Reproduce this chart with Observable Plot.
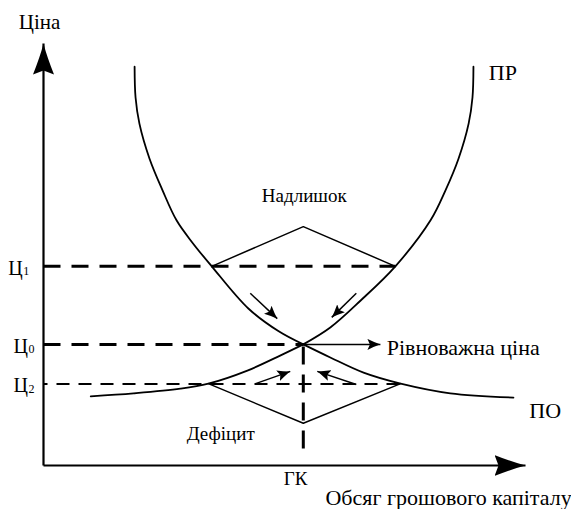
<!DOCTYPE html>
<html>
<head>
<meta charset="utf-8">
<script src="https://cdn.jsdelivr.net/npm/d3@7"></script>
<script src="https://cdn.jsdelivr.net/npm/@observablehq/plot@0.6"></script>
<style>
  html, body { margin: 0; padding: 0; background: #fff; }
  #chart svg { display: block; }
  #chart svg text, #chart svg tspan { font-family: "Liberation Serif", "Times New Roman", "DejaVu Serif", serif !important; }
</style>
</head>
<body>
<div id="chart"></div>
<script>
// ---- Data (quantity q, price p in arbitrary units 0..100) ----
const priceLevels = [
  { name: "Ц", sub: "1", p: 47.2, qEnd: 73.0, labelQ: -7.3, heavy: true },
  { name: "Ц", sub: "0", p: 28.7, qEnd: 53.9, labelQ: -6.2, heavy: true },
  { name: "Ц", sub: "2", p: 19.3, qEnd: 74.6, labelQ: -6.2, heavy: false }
];
const equilibrium = { q: 53.9, p: 28.7 };
const gkBottom = 2.4;

// curve ПР (two branches meeting at equilibrium)
const prLeft = [
  [18.9, 94.5], [19.1, 87.2], [19.9, 81.0], [22.0, 72.7], [24.7, 65.2],
  [27.6, 58.1], [30.9, 52.8], [34.9, 47.2], [42.5, 37.2], [48.8, 31.8], [53.9, 28.7]
];
const prRight = [
  [53.9, 28.7], [59.5, 32.7], [65.8, 39.1], [73.0, 47.2], [80.3, 58.1],
  [83.4, 65.2], [86.1, 72.7], [88.2, 81.0], [89.0, 87.2], [89.2, 94.5]
];
// curve ПО
const poLeft = [
  [9.8, 16.4], [18.7, 17.1], [28.4, 18.2], [34.2, 19.4], [42.3, 22.5],
  [49.2, 26.1], [53.9, 28.7]
];
const poRight = [
  [53.9, 28.7], [59.5, 25.6], [66.4, 22.0], [74.1, 19.4], [84.4, 17.1], [97.5, 16.1]
];
// surplus / deficit wedges
const surplus = [[34.9, 47.2], [53.9, 56.6], [73.0, 47.2]];
const deficit = [[34.2, 19.4], [53.9, 10.0], [74.1, 19.4]];

// adjustment arrows [q1, p1, q2, p2]
const adjustArrows = [
  [42.9, 40.8, 48.5, 34.8],
  [64.9, 40.8, 59.8, 35.1],
  [44.0, 19.4, 51.2, 22.3],
  [64.9, 19.2, 56.8, 22.3],
  [53.9, 28.7, 69.9, 28.7]
];

// text labels
const curveLabels = [
  { text: "ПР", q: 95.3, p: 93.0 },
  { text: "ПО", q: 104.1, p: 13.0 }
];
const axisTitleY = [{ text: "Ціна", q: -0.8, p: 105.0 }];
const regionLabels = [
  { text: "Надлишок", q: 54.1, p: 64.0 },
  { text: "ГК", q: 52.3, p: -3.1 }
];
const deficitLabel = [{ text: "Дефіцит", q: 29.7, p: 7.6 }];
const longLabels = [
  { text: "Рівноважна ціна", q: 71.2, p: 27.9 },
  { text: "Обсяг грошового капіталу", q: 58.5, p: -7.6 }
];

// ---- helpers ----
const toPts = (arr, branch) => arr.map(([q, p]) => ({ q, p, branch }));

function headMarker(len, half, notch) {
  return (color) => {
    const m = d3.create("svg:marker")
      .attr("viewBox", `${-len} ${-half} ${len} ${2 * half}`)
      .attr("markerWidth", len)
      .attr("markerHeight", 2 * half)
      .attr("markerUnits", "userSpaceOnUse")
      .attr("refX", 0)
      .attr("refY", 0)
      .attr("orient", "auto");
    m.append("path")
      .attr("d", `M0,0Q${-len * 0.4},${-half * 0.3} ${-len},${-half}L${-len + notch},0L${-len},${half}Q${-len * 0.4},${half * 0.3} 0,0Z`)
      .attr("fill", color === "currentColor" ? "black" : color)
      .attr("stroke", "none");
    return m.node();
  };
}
const bigHead = headMarker(31, 10.5, 4);
const smallHead = headMarker(13, 5.5, 2.5);

const font = "Liberation Serif";

const curves = [
  ...toPts(prLeft, "prL"), ...toPts(prRight, "prR"),
  ...toPts(poLeft, "poL"), ...toPts(poRight, "poR")
];
const wedges = [...toPts(surplus, "s"), ...toPts(deficit, "d")];

const heavyLevels = priceLevels.filter(d => d.heavy);
const lightLevels = priceLevels.filter(d => !d.heavy);

const txt = (data, size, anchor) =>
  Plot.text(data, { x: "q", y: "p", text: "text", textAnchor: anchor, fontFamily: font, fontSize: size, fill: "black" });

const plot = Plot.plot({
  width: 571,
  height: 509,
  marginLeft: 43,
  marginRight: 46,
  marginTop: 43,
  marginBottom: 44,
  x: { domain: [0, 100], axis: null },
  y: { domain: [0, 100], axis: null },
  style: { background: "white", color: "black", overflow: "visible", fontFamily: "Liberation Serif, serif" },
  marks: [
    Plot.link(heavyLevels, { x1: 0, x2: "qEnd", y1: "p", y2: "p", stroke: "black", strokeWidth: 3, strokeDasharray: "17,11" }),
    Plot.link(lightLevels, { x1: 0, x2: "qEnd", y1: "p", y2: "p", stroke: "black", strokeWidth: 2, strokeDasharray: "13,9", strokeDashoffset: 9 }),
    Plot.link([equilibrium], { x1: "q", x2: "q", y1: "p", y2: gkBottom, stroke: "black", strokeWidth: 3, strokeDasharray: "18,10", strokeDashoffset: -2 }),
    Plot.line(wedges, { x: "q", y: "p", z: "branch", stroke: "black", strokeWidth: 1.5 }),
    Plot.line(curves, { x: "q", y: "p", z: "branch", stroke: "black", strokeWidth: 1.8, curve: "catmull-rom" }),
    Plot.link(adjustArrows, { x1: d => d[0], y1: d => d[1], x2: d => d[2], y2: d => d[3], stroke: "black", strokeWidth: 1.5, markerEnd: smallHead }),
    Plot.link([{ x1: 0, y1: 0, x2: 0, y2: 100 }, { x1: 0, y1: 0, x2: 100, y2: 0 }],
      { x1: "x1", y1: "y1", x2: "x2", y2: "y2", stroke: "black", strokeWidth: 2.2, markerEnd: bigHead }),
    Plot.text(priceLevels, { x: "labelQ", y: "p", text: "name", textAnchor: "start", fontFamily: font, fontSize: 20, dy: 2, fill: "black" }),
    Plot.text(priceLevels, { x: "labelQ", y: "p", text: "sub", textAnchor: "start", fontFamily: font, fontSize: 12, dx: 15, dy: 5, fill: "black" }),
    txt(axisTitleY, 21, "middle"),
    txt(curveLabels, 22, "middle"),
    txt(regionLabels, 19, "middle"),
    txt(deficitLabel, 19, "start"),
    txt(longLabels, 22, "start")
  ]
});
document.getElementById("chart").appendChild(plot);
</script>
</body>
</html>
